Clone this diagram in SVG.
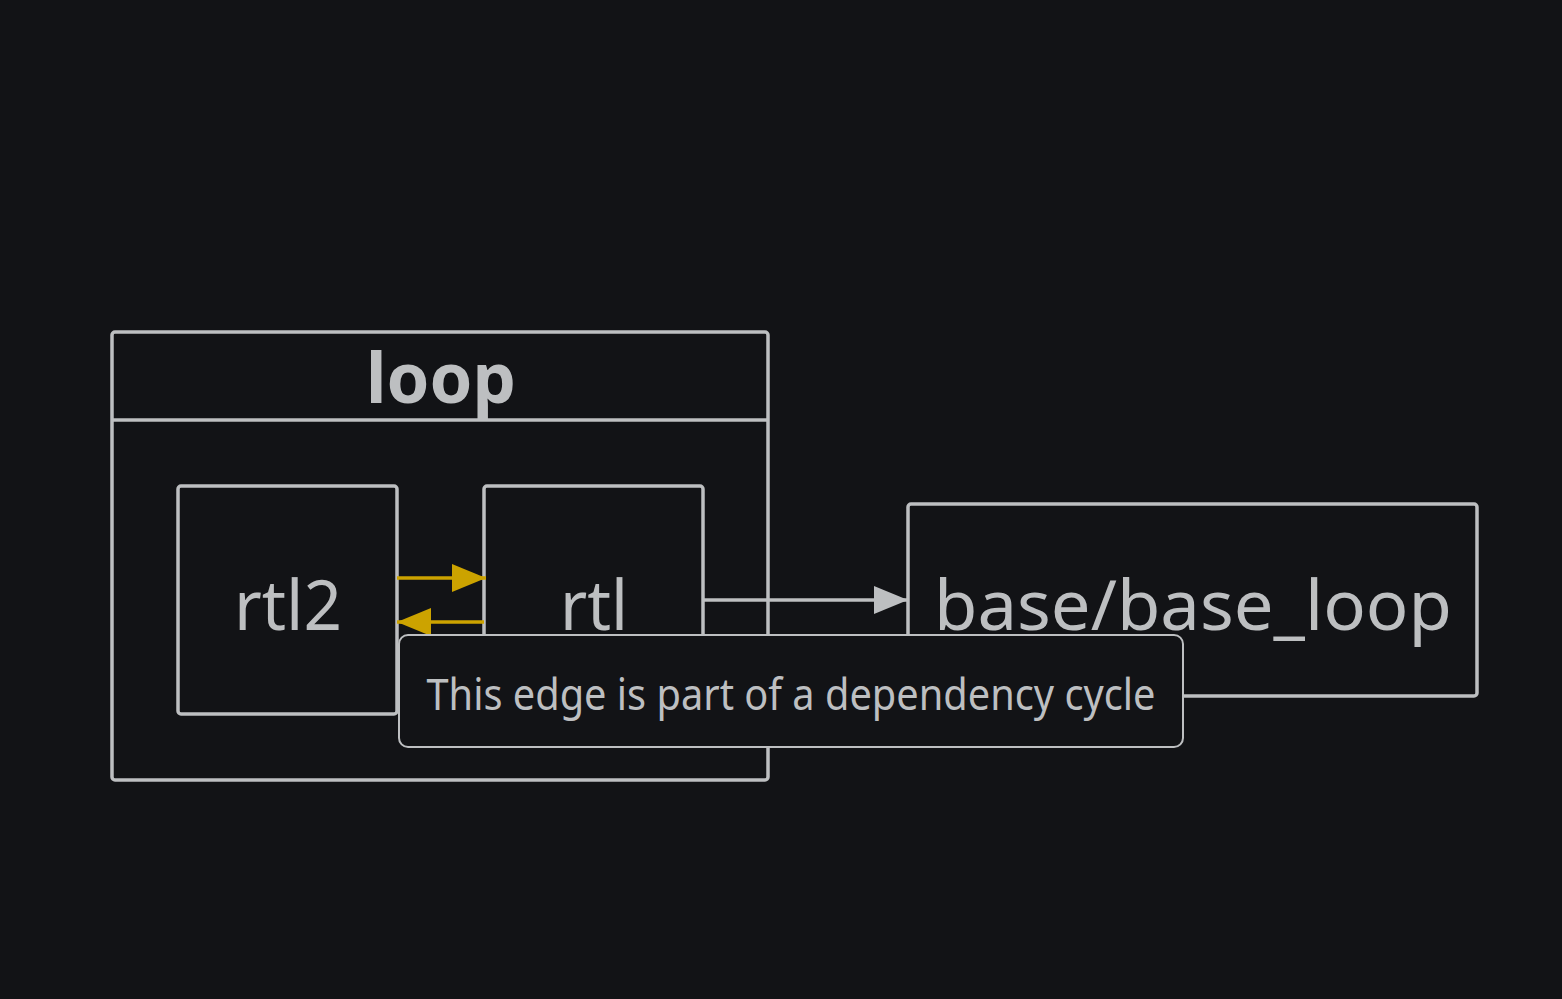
<svg xmlns="http://www.w3.org/2000/svg" width="1562" height="999" viewBox="0 0 1562 999">
<defs>
<style>
.bx{fill:#121316;stroke:#bdbfc1;stroke-width:3.5}
.t{font-family:"Noto Sans","Open Sans",sans-serif;fill:#bdbfc1;text-anchor:middle}
.e{fill:none;stroke-width:3.5}
</style>
<marker id="ag" markerWidth="34" markerHeight="28" refX="34" refY="14" orient="auto" markerUnits="userSpaceOnUse"><path d="M0,0 L34,14 L0,28 Z" fill="#bdbfc1"/></marker>
<marker id="ay" markerWidth="34" markerHeight="28" refX="34" refY="14" orient="auto" markerUnits="userSpaceOnUse"><path d="M0,0 L34,14 L0,28 Z" fill="#cca300"/></marker>
</defs>
<rect width="1562" height="999" fill="#121316"/>
<g id="loop">
<rect class="bx" x="112" y="332" width="656" height="448" rx="3"/>
<line x1="112" y1="420" x2="768" y2="420" stroke="#bdbfc1" stroke-width="3.5"/>
<text class="t" x="441" y="403" font-size="70" font-weight="bold" textLength="150" lengthAdjust="spacingAndGlyphs">loop</text>
</g>
<g id="rtl2">
<rect class="bx" x="178" y="486" width="219" height="228" rx="3"/>
<text class="t" x="288" y="630" font-size="70" textLength="108" lengthAdjust="spacingAndGlyphs">rtl2</text>
</g>
<g id="rtl">
<rect class="bx" x="484" y="486" width="219" height="228" rx="3"/>
<text class="t" x="594" y="630" font-size="70" textLength="68" lengthAdjust="spacingAndGlyphs">rtl</text>
</g>
<g id="base_loop">
<rect class="bx" x="908" y="504" width="569" height="192" rx="3"/>
<text class="t" x="1193" y="630" font-size="70" textLength="518" lengthAdjust="spacingAndGlyphs">base/base_loop</text>
</g>
<g id="connectors">
<line class="e" x1="703" y1="600" x2="908" y2="600" stroke="#bdbfc1" marker-end="url(#ag)"/>
<line class="e" x1="397" y1="578" x2="486" y2="578" stroke="#cca300" marker-end="url(#ay)"/>
<line class="e" x1="484" y1="622" x2="397" y2="622" stroke="#cca300" marker-end="url(#ay)"/>
</g>
<g id="tooltip">
<rect x="399" y="635" width="784" height="112" rx="9" fill="#121316" stroke="#bdbfc1" stroke-width="2"/>
<text class="t" x="791" y="710" font-size="44" textLength="729" lengthAdjust="spacingAndGlyphs">This edge is part of a dependency cycle</text>
</g>
</svg>
